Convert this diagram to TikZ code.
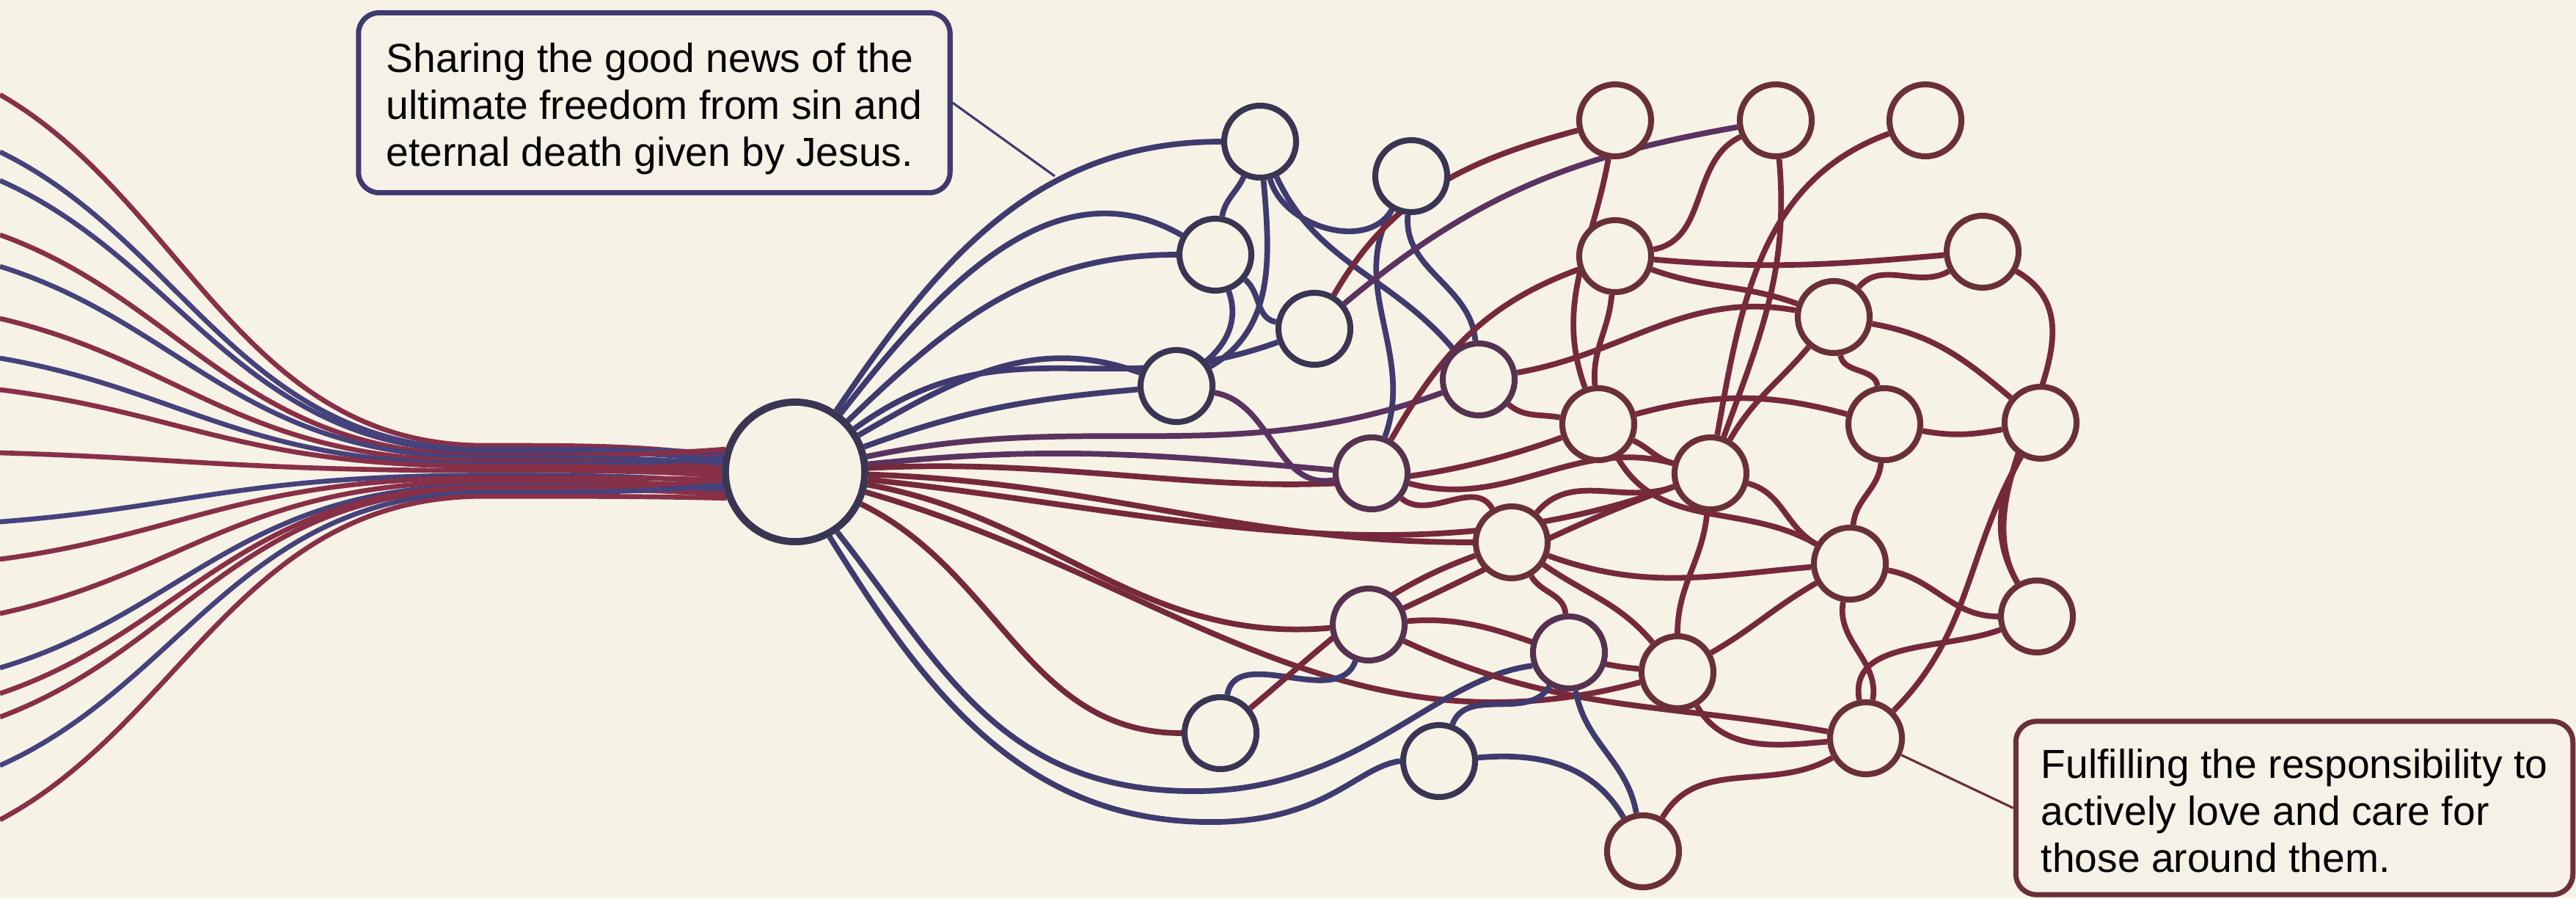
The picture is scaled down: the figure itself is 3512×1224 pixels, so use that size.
\documentclass[tikz,border=0pt]{standalone}
\usepackage{fontspec}
\setmainfont{Liberation Sans}
\pgfdeclarelayer{bgfill}
\pgfdeclarelayer{edges}
\pgfsetlayers{bgfill,edges,main}
\definecolor{bgc}{HTML}{F7F2E6}
\definecolor{boxc}{HTML}{F5F1E6}
\definecolor{navy}{HTML}{3F3B6E}
\definecolor{plum}{HTML}{5A3360}
\definecolor{maroon}{HTML}{75293A}
\definecolor{fanred}{HTML}{883047}
\definecolor{fanblue}{HTML}{45427C}
\definecolor{ndL}{HTML}{3A3552}
\definecolor{ndM}{HTML}{55324F}
\definecolor{ndR}{HTML}{6A3038}
\begin{document}
\begin{tikzpicture}[x=0.01cm,y=-0.01cm,
  line cap=round,
  sn/.style={circle,draw=ndR,line width=2.3pt,fill=bgc,minimum size=0.98cm,inner sep=0pt},
  snl/.style={sn,draw=ndL},
  snm/.style={sn,draw=ndM},
  hub/.style={circle,draw=ndL,line width=2.8pt,fill=bgc,minimum size=1.9cm,inner sep=0pt},
  bl/.style={draw=navy,line width=2.2pt},
  pl/.style={draw=plum,line width=2.2pt},
  rd/.style={draw=maroon,line width=2.2pt},
  fbl/.style={draw=fanblue,line width=1.9pt},
  frd/.style={draw=fanred,line width=1.9pt},
  box/.style={rounded corners=0.28cm,line width=2pt,fill=boxc,inner sep=0pt},
  txt/.style={align=left,inner sep=0pt,font=\fontsize{15.7}{18.2}\selectfont},
  leader/.style={line width=0.9pt}
]
\begin{pgfonlayer}{bgfill}
\fill[bgc] (0,0) rectangle (3512,1224);
\end{pgfonlayer}
\useasboundingbox (0,0) rectangle (3512,1224);

% hub and nodes
\node[hub] (H) at (1084,643) {};
\node[snl] (n1) at (1718,193) {};
\node[snl] (n2) at (1924,240) {};
\node[snl] (n3) at (1657,347) {};
\node[snl] (n4) at (1792,448) {};
\node[snl] (n5) at (1604,526) {};
\node[snm] (n6) at (2016,517) {};
\node[snm] (n7) at (1870,645) {};
\node[sn] (n8) at (2202,164) {};
\node[sn] (n9) at (2421,164) {};
\node[sn] (n10) at (2625,164) {};
\node[sn] (n11) at (2202,349) {};
\node[sn] (n12) at (2703,343) {};
\node[sn] (n13) at (2500,432) {};
\node[sn] (n14) at (2179,578) {};
\node[sn] (n15) at (2569,578) {};
\node[sn] (n16) at (2332,645) {};
\node[sn] (n17) at (2782,576) {};
\node[sn] (n18) at (2061,739) {};
\node[sn] (n19) at (2522,768) {};
\node[snm] (n20) at (1866,851) {};
\node[snm] (n21) at (2139,889) {};
\node[sn] (n22) at (2287,916) {};
\node[sn] (n23) at (2777,840) {};
\node[snl] (n24) at (1664,999) {};
\node[snl] (n25) at (1962,1037) {};
\node[sn] (n26) at (2544,1006) {};
\node[sn] (n27) at (2240,1160) {};

% callout boxes
\node[box,draw=navy,minimum width=8.06cm,minimum height=2.45cm] (b1) at (892,140) {};
\node[txt] (t1) at ([yshift=-0.08cm]b1.center)
  {Sharing the good news of the\\ultimate freedom from sin and\\eternal death given by Jesus.};
\node[box,draw=ndR,minimum width=7.59cm,minimum height=2.36cm] (b2) at (3128,1101) {};
\node[txt] (t2) at ([yshift=-0.04cm]b2.center)
  {Fulfilling the responsibility to\\actively love and care for\\those around them.};
\coordinate (c1) at (1438,240);

\begin{pgfonlayer}{edges}
% left fan
\foreach \i/\y/\c/\a in {1/129/frd/172,2/207/fbl/170,3/246/fbl/174,4/320/frd/168,5/363/fbl/176,
  6/434/frd/178,7/488/fbl/173,8/531/frd/180,9/617/frd/182,10/711/fbl/186,11/762/frd/184,
  12/836/frd/188,13/910/fbl/190,14/945/frd/185,15/977/frd/192,16/1043/fbl/187,17/1117/frd/194}{
  \coordinate (L\i) at (0,\y);
  \pgfmathsetmacro{\t}{643+0.07*(\y-643)}
  \pgfmathsetmacro{\ya}{\y+0.3*(\t-\y)}
  \pgfmathsetmacro{\an}{180+1.5*(\a-180)}
  \draw[\c] (L\i) .. controls (250,\ya) and (330,\t) .. (660,\t)
     .. controls (800,\t) and (880,\t) .. (H.\an);
}
% hub fan (upper, blue)
\draw[bl] (H) to[out=56,in=180] (n1);
\draw[bl] (H) to[out=52,in=150] (n3);
\draw[bl] (H) to[out=44,in=180] (n3);
\draw[bl] (H) to[out=36,in=200,looseness=1.1] (n4);
\draw[bl] (H) to[out=30,in=160] (n5);
\draw[bl] (H) to[out=20,in=185] (n5);
% hub fan (middle)
\draw[pl] (H) to[out=12,in=200] (n6);
\draw[pl] (H) to[out=6,in=175] (n7);
\draw[rd] (H) to[out=3,in=200] (n14);
\draw[rd] (H) to[out=-2,in=180] (n18);
\draw[rd] (H) to[out=-6,in=200,looseness=0.9] (n16);
\draw[rd] (H) to[out=-10,in=185] (n20);
\draw[rd] (H) to[out=-16,in=195] (n22);
\draw[rd] (H) to[out=-26,in=180] (n24);
% hub fan (lower, blue)
\draw[bl] (H.-55) .. controls (1280,900) and (1360,1075) .. (1620,1078)
   .. controls (1850,1082) and (1950,925) .. (n21.200);
\draw[bl] (H.-62) .. controls (1255,930) and (1390,1125) .. (1660,1120)
   .. controls (1810,1117) and (1850,1045) .. (n25.west);
% node to node
\draw[bl] (n1) to[out=-115,in=80] (n3);
\draw[bl] (n1) to[out=-75,in=-120] (n2);
\draw[bl] (n1) to[out=-85,in=30] (n5);
\draw[bl] (n1) to[out=-65,in=130] (n6);
\draw[bl] (n3) to[out=-70,in=40] (n5);
\draw[bl] (n3) to[out=-40,in=170] (n4);
\draw[bl] (n2) to[out=-95,in=95] (n6);
\draw[bl] (n2) to[out=-120,in=70] (n7);
\draw[pl] (n5) to[out=-10,in=190] (n7);
\draw[pl] (n4) to[out=40,in=190] (n9);
\draw[rd] (n8) to[out=195,in=60] (n4);
\draw[rd] (n9) to[out=205,in=10] (n11);
\draw[rd] (n9) to[out=-85,in=70] (n16);
\draw[rd] (n10) to[out=200,in=80] (n16);
\draw[rd] (n8) to[out=-100,in=110] (n14);
\draw[rd] (n11) to[out=-5,in=185] (n12);
\draw[rd] (n11) to[out=-20,in=160] (n13);
\draw[rd] (n11) to[out=-95,in=95] (n14);
\draw[rd] (n11) to[out=200,in=60] (n7);
\draw[rd] (n12) to[out=210,in=50] (n13);
\draw[rd] (n13) to[out=-10,in=140] (n17);
\draw[rd] (n13) to[out=-80,in=100] (n15);
\draw[rd] (n13) to[out=-130,in=60] (n16);
\draw[rd] (n6) to[out=10,in=170] (n13);
\draw[rd] (n6) to[out=-40,in=170] (n14);
\draw[rd] (n14) to[out=-25,in=165] (n16);
\draw[rd] (n14) to[out=-60,in=150] (n19);
\draw[rd] (n14) to[out=15,in=165] (n15);
\draw[rd] (n15) to[out=-10,in=190] (n17);
\draw[rd] (n15) to[out=-95,in=85] (n19);
\draw[rd] (n16) to[out=-95,in=90] (n22);
\draw[rd] (n16) to[out=-15,in=150] (n19);
\draw[rd] (n16) to[out=200,in=50] (n18);
\draw[rd] (n17) to[out=-120,in=120] (n23);
\draw[rd] (n17) to[out=-120,in=45] (n26);
\draw[rd] (n18) to[out=-20,in=185] (n19);
\draw[rd] (n18) to[out=-60,in=95] (n21);
\draw[rd] (n18) to[out=-35,in=130] (n22);
\draw[rd] (n19) to[out=-100,in=80] (n26);
\draw[rd] (n19) to[out=-10,in=180] (n23);
\draw[rd] (n20) to[out=5,in=175] (n22);
\draw[rd] (n20) to[out=-25,in=170] (n26);
\draw[rd] (n20) to[out=25,in=200] (n16);
\draw[bl] (n20) to[out=-110,in=80] (n24);
\draw[bl] (n21) to[out=-120,in=70] (n25);
\draw[bl] (n21) to[out=-80,in=100] (n27);
\draw[bl] (n25) to[out=5,in=120] (n27);
\draw[rd] (n22) to[out=-60,in=185] (n26);
\draw[rd] (n22) to[out=30,in=210] (n19);
\draw[rd] (n23) to[out=-160,in=100] (n26);
\draw[rd] (n26) to[out=-150,in=60] (n27);
\draw[rd] (n7) to[out=-15,in=165] (n16);
\draw[rd] (n7) to[out=-40,in=120] (n18);
\draw[rd] (n24) to[out=40,in=200] (n18);
\draw[rd] (n12) to[out=-30,in=120] (n23);
% leaders
\draw[leader,draw=navy] (b1.east) -- (c1);
\draw[leader,draw=ndR] (b2.west) -- (n26);
\end{pgfonlayer}
\end{tikzpicture}
\end{document}
